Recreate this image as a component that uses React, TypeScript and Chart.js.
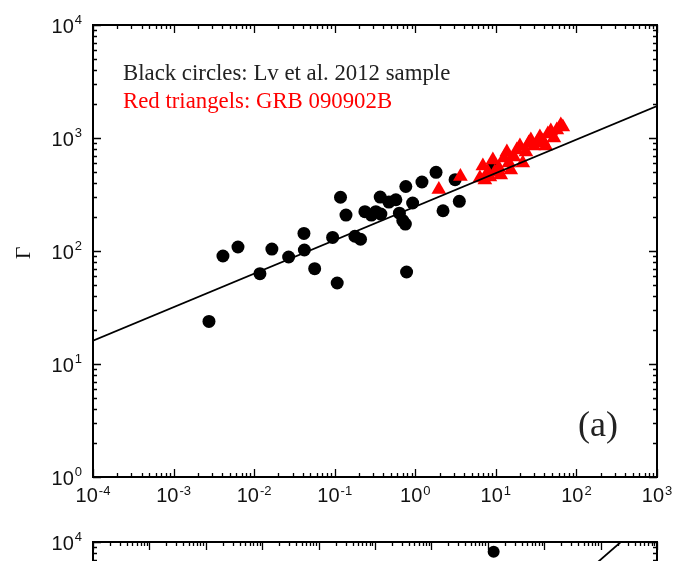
import React, { useEffect, useRef } from 'react';
import { Chart, registerables } from 'chart.js';

Chart.register(...registerables);

// ---------- Panel (a) data ----------
const xExponentsA = [-4, -3, -2, -1, 0, 1, 2, 3];
const yExponentsA = [0, 1, 2, 3, 4];

// Black circles: Lv et al. 2012 sample
const blackX = [0.00275, 0.0041, 0.0063, 0.0118, 0.0166, 0.0268, 0.0415, 0.042, 0.0564, 0.0942, 0.1074, 0.118, 0.138, 0.178, 0.209, 0.237, 0.285, 0.324, 0.367, 0.374, 0.47, 0.574, 0.635, 0.70, 0.753, 0.763, 0.78, 0.927, 1.21, 1.81, 2.21, 3.12, 3.52, 9.2];
const blackY = [23.8, 90.3, 108.5, 63, 104, 88.5, 143, 102, 69.7, 132, 52.1, 299, 208, 135, 127, 223, 208, 223, 300, 212, 271, 284, 216, 186, 173, 372, 65.2, 266, 408, 497, 227, 428, 275, 543];

// Red triangles: GRB 090902B
const redX = [1.96, 3.63, 6.34, 6.9, 7.3, 7.96, 8.43, 9.18, 9.72, 10.9, 11.5, 12.6, 13.7, 14.5, 15.3, 16.7, 18.2, 19.9, 21.6, 23.6, 25.6, 27.2, 29.6, 32.3, 35.2, 38.3, 41.7, 44.2, 48.1, 52.5, 57.1, 64, 67.8];
const redY = [350, 456, 443, 565, 425, 500, 452, 639, 500, 543, 471, 665, 752, 601, 521, 679, 783, 849, 601, 752, 903, 960, 849, 903, 1020, 940, 849, 1085, 1153, 1000, 1177, 1303, 1250];

// Fitted power-law line
const fitX = [1e-4, 1e3];
const fitY = [16.1, 1920];

// ---------- Panel (b) (only its top edge is visible) ----------
const xExponentsB = [-5, -4, -3, -2, -1, 0, 1, 2, 3, 4, 5];
const yExponentsB = [0, 1, 2, 3, 4];
const panelBX = [127];
const panelBY = [8200];
const panelBFitX = [1e-5, 1e5];
const panelBFitY = [0.85, 19000];

type AxesOpts = {
  xExp: number[];
  yExp: number[];
  showX: boolean;
  annotations: boolean;
};

const axesPlugin = {
  id: 'logAxes',
  afterDatasetsDraw(chart: any, _args: any, opts: AxesOpts) {
    const { ctx, chartArea: a, scales } = chart;
    const xs = scales.x;
    const ys = scales.y;
    ctx.save();
    ctx.strokeStyle = '#000';
    ctx.lineWidth = 1.3;
    ctx.beginPath();
    const xMinE = opts.xExp[0];
    const xMaxE = opts.xExp[opts.xExp.length - 1];
    for (let e = xMinE; e <= xMaxE; e++) {
      for (let m = 1; m <= 9; m++) {
        if (e === xMaxE && m > 1) break;
        const v = m * Math.pow(10, e);
        const px = Math.round(xs.getPixelForValue(v)) + 0.5;
        const len = m === 1 ? 8 : 4;
        ctx.moveTo(px, a.bottom);
        ctx.lineTo(px, a.bottom - len);
        ctx.moveTo(px, a.top);
        ctx.lineTo(px, a.top + len);
      }
    }
    const yMinE = opts.yExp[0];
    const yMaxE = opts.yExp[opts.yExp.length - 1];
    for (let e = yMinE; e <= yMaxE; e++) {
      for (let m = 1; m <= 9; m++) {
        if (e === yMaxE && m > 1) break;
        const v = m * Math.pow(10, e);
        const py = Math.round(ys.getPixelForValue(v)) + 0.5;
        const len = m === 1 ? 8 : 4;
        ctx.moveTo(a.left, py);
        ctx.lineTo(a.left + len, py);
        ctx.moveTo(a.right, py);
        ctx.lineTo(a.right - len, py);
      }
    }
    ctx.stroke();

    // frame
    ctx.lineWidth = 2;
    ctx.strokeRect(a.left, a.top, a.right - a.left, a.bottom - a.top);

    // tick labels
    ctx.fillStyle = '#111';
    const big = '20px "Liberation Sans", Arial, sans-serif';
    const small = '13px "Liberation Sans", Arial, sans-serif';
    if (opts.showX) {
      for (const e of opts.xExp) {
        const px = xs.getPixelForValue(Math.pow(10, e));
        const es = String(e);
        ctx.font = big;
        const w10 = ctx.measureText('10').width;
        ctx.font = small;
        const we = ctx.measureText(es).width;
        const start = px - (w10 + 1 + we) / 2;
        ctx.textAlign = 'left';
        ctx.textBaseline = 'alphabetic';
        ctx.font = big;
        ctx.fillText('10', start, a.bottom + 25);
        ctx.font = small;
        ctx.fillText(es, start + w10 + 1, a.bottom + 18);
      }
    }
    for (const e of opts.yExp) {
      const py = ys.getPixelForValue(Math.pow(10, e));
      const es = String(e);
      ctx.font = small;
      const we = ctx.measureText(es).width;
      ctx.textAlign = 'right';
      ctx.textBaseline = 'alphabetic';
      ctx.fillText(es, a.left - 11, py - 1);
      ctx.font = big;
      ctx.fillText('10', a.left - 12 - we, py + 8);
    }

    if (opts.annotations) {
      // y-axis title
      ctx.save();
      ctx.translate(30, 253);
      ctx.rotate(-Math.PI / 2);
      ctx.textAlign = 'center';
      ctx.font = '22px "Liberation Serif", "Times New Roman", serif';
      ctx.fillStyle = '#111';
      ctx.fillText('Γ', 0, 0);
      ctx.restore();

      ctx.textAlign = 'left';
      ctx.font = '22.8px "Liberation Serif", "Times New Roman", serif';
      ctx.fillStyle = '#222';
      ctx.fillText('Black circles: Lv et al. 2012 sample', 123, 80);
      ctx.fillStyle = '#ff0000';
      ctx.fillText('Red triangels: GRB 090902B', 123, 108);
      ctx.fillStyle = '#222';
      ctx.font = '36px "Liberation Serif", "Times New Roman", serif';
      ctx.fillText('(a)', 578, 436);
    }
    ctx.restore();
  },
};

function toPoints(xs: number[], ys: number[]) {
  return xs.map((x, i) => ({ x, y: ys[i] }));
}

function PanelA() {
  const ref = useRef<HTMLCanvasElement | null>(null);
  useEffect(() => {
    if (!ref.current) return;
    const chart = new Chart(ref.current, {
      type: 'scatter',
      data: {
        datasets: [
          {
            label: 'fit',
            data: toPoints(fitX, fitY),
            showLine: true,
            borderColor: '#000',
            borderWidth: 1.8,
            pointRadius: 0,
            order: 0,
          },
          {
            label: 'GRB 090902B',
            data: toPoints(redX, redY),
            pointStyle: 'triangle',
            pointRadius: 8.5,
            backgroundColor: '#ff0000',
            borderColor: '#ff0000',
            borderWidth: 0,
            order: 1,
          },
          {
            label: 'Lv et al. 2012',
            data: toPoints(blackX, blackY),
            pointStyle: 'circle',
            pointRadius: 6.5,
            backgroundColor: '#000',
            borderWidth: 0,
            order: 2,
          },
        ],
      },
      options: {
        animation: false,
        responsive: false,
        maintainAspectRatio: false,
        layout: { padding: { left: 93, right: 20, top: 25, bottom: 43 } },
        scales: {
          x: { type: 'logarithmic', min: 1e-4, max: 1e3, display: false },
          y: { type: 'logarithmic', min: 1, max: 1e4, display: false },
        },
        plugins: {
          legend: { display: false },
          tooltip: { enabled: false },
          logAxes: { xExp: xExponentsA, yExp: yExponentsA, showX: true, annotations: true },
        } as any,
      },
      plugins: [axesPlugin as any],
    });
    return () => chart.destroy();
  }, []);
  return (
    <canvas
      ref={ref}
      width={677}
      height={520}
      style={{ position: 'absolute', left: 0, top: 0, width: 677, height: 520 }}
    />
  );
}

function PanelB() {
  const ref = useRef<HTMLCanvasElement | null>(null);
  useEffect(() => {
    if (!ref.current) return;
    const chart = new Chart(ref.current, {
      type: 'scatter',
      data: {
        datasets: [
          {
            label: 'fit',
            data: toPoints(panelBFitX, panelBFitY),
            showLine: true,
            borderColor: '#000',
            borderWidth: 1.8,
            pointRadius: 0,
            order: 0,
          },
          {
            label: 'sample',
            data: toPoints(panelBX, panelBY),
            pointStyle: 'circle',
            pointRadius: 6,
            backgroundColor: '#000',
            borderWidth: 0,
            order: 1,
          },
        ],
      },
      options: {
        animation: false,
        responsive: false,
        maintainAspectRatio: false,
        layout: { padding: { left: 93, right: 20, top: 22, bottom: 6 } },
        scales: {
          x: { type: 'logarithmic', min: 1e-5, max: 1e5, display: false },
          y: { type: 'logarithmic', min: 1, max: 1e4, display: false },
        },
        plugins: {
          legend: { display: false },
          tooltip: { enabled: false },
          logAxes: { xExp: xExponentsB, yExp: yExponentsB, showX: false, annotations: false },
        } as any,
      },
      plugins: [axesPlugin as any],
    });
    return () => chart.destroy();
  }, []);
  return (
    <canvas
      ref={ref}
      width={677}
      height={480}
      style={{ position: 'absolute', left: 0, top: 520, width: 677, height: 480 }}
    />
  );
}

export default function App() {
  return (
    <div
      style={{
        position: 'fixed',
        left: 0,
        top: 0,
        width: 677,
        height: 561,
        overflow: 'hidden',
        background: '#fff',
      }}
    >
      <PanelA />
      <PanelB />
    </div>
  );
}
